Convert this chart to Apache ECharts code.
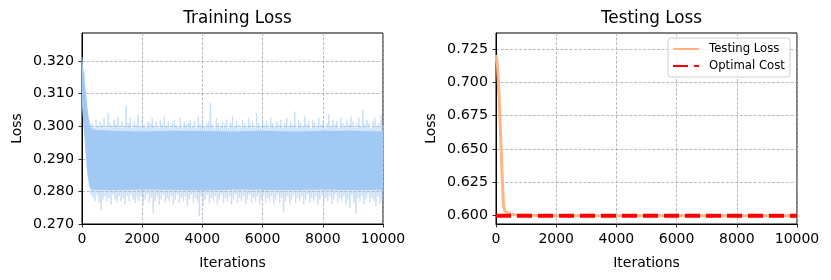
<!DOCTYPE html>
<html>
<head>
<meta charset="utf-8">
<script src="https://cdn.jsdelivr.net/npm/echarts@6/dist/echarts.min.js"></script>
<style>html,body{margin:0;padding:0;background:#fff}#c{width:831px;height:280px}</style>
</head>
<body>
<div id="c"></div>
<script>
// ---- data ----
var trainTitle = 'Training Loss';
var testTitle = 'Testing Loss';
var xLabel = 'Iterations';
var yLabel = 'Loss';
var xTicks = [0, 2000, 4000, 6000, 8000, 10000];
var trainYTicks = [0.27, 0.28, 0.29, 0.30, 0.31, 0.32];
var testYTicks = [0.600, 0.625, 0.650, 0.675, 0.700, 0.725];
var totalIterations = 10000;
// training loss, sampled evenly over 0..10000 iterations (noisy extremes)
var trainLoss = [
0.3212,0.3120,0.3165,0.3035,0.3085,0.2945,0.3020,0.2850,0.3005,0.2790,
0.3010,0.2780,0.2995,0.2770,0.3020,0.2790,0.3000,0.2765,0.3015,0.2743,
0.3005,0.2775,0.3025,0.2785,0.2995,0.2770,0.3041,0.2780,0.3010,0.2760,
0.3000,0.2790,0.3020,0.2775,0.3005,0.2765,0.3030,0.2785,0.2995,0.2770,
0.3015,0.2780,0.3000,0.2760,0.3064,0.2785,0.3010,0.2770,0.3025,0.2790,
0.2995,0.2775,0.3015,0.2765,0.3005,0.2780,0.3035,0.2770,0.3000,0.2785,
0.3020,0.2760,0.3005,0.2775,0.2995,0.2790,0.3015,0.2765,0.3010,0.2780,
0.3025,0.2733,0.3000,0.2770,0.3015,0.2785,0.2995,0.2760,0.3020,0.2775,
0.3005,0.2790,0.3030,0.2765,0.3000,0.2780,0.3015,0.2770,0.2995,0.2785,
0.3010,0.2760,0.3020,0.2775,0.3005,0.2790,0.3000,0.2765,0.3025,0.2780,
0.2995,0.2770,0.3015,0.2785,0.3005,0.2755,0.3010,0.2775,0.3020,0.2790,
0.3000,0.2765,0.3015,0.2780,0.2995,0.2770,0.3030,0.2724,0.3005,0.2785,
0.3020,0.2760,0.3000,0.2775,0.3010,0.2790,0.3015,0.2765,0.3071,0.2780,
0.3005,0.2770,0.2995,0.2785,0.3025,0.2760,0.3010,0.2775,0.3000,0.2790,
0.3015,0.2765,0.3005,0.2780,0.3020,0.2770,0.2995,0.2785,0.3010,0.2760,
0.3030,0.2775,0.3000,0.2790,0.3015,0.2765,0.3005,0.2780,0.2995,0.2770,
0.3020,0.2785,0.3010,0.2760,0.3000,0.2775,0.3025,0.2790,0.3005,0.2765,
0.3015,0.2780,0.2995,0.2770,0.3040,0.2785,0.3010,0.2760,0.3000,0.2775,
0.3020,0.2790,0.3005,0.2765,0.3015,0.2780,0.2995,0.2770,0.3025,0.2785,
0.3010,0.2760,0.3000,0.2775,0.3015,0.2790,0.3005,0.2765,0.3020,0.2780,
0.2995,0.2737,0.3010,0.2770,0.3025,0.2785,0.3000,0.2760,0.3015,0.2775,
0.3005,0.2790,0.3045,0.2765,0.2995,0.2780,0.3020,0.2770,0.3010,0.2785,
0.3000,0.2760,0.3030,0.2775,0.3005,0.2790,0.3015,0.2765,0.2995,0.2780,
0.3020,0.2770,0.3010,0.2785,0.3000,0.2760,0.3025,0.2775,0.3005,0.2790,
0.3015,0.2765,0.2995,0.2780,0.3010,0.2770,0.3035,0.2785,0.3000,0.2760,
0.3020,0.2775,0.3005,0.2790,0.3015,0.2765,0.2995,0.2780,0.3025,0.2770,
0.3010,0.2785,0.3000,0.2760,0.3020,0.2775,0.3005,0.2750,0.3030,0.2790,
0.3015,0.2765,0.2995,0.2730,0.3010,0.2780,0.3025,0.2770,0.3000,0.2785,
0.3050,0.2760,0.3005,0.2775,0.3020,0.2790,0.3010,0.2765,0.2995,0.2780,
0.3015,0.2770,0.3025,0.2755,0.3000,0.2785,0.3010,0.2760,0.3035,0.2775,
0.3005
];
// dense core of the training-loss band (lower / upper edge)
var trainBandIter = [0, 60, 120, 180, 250, 330, 1000, 2000, 3000, 4000, 5000, 6000, 7000, 8000, 9000, 10000];
var trainBandLo = [0.3060, 0.2990, 0.2920, 0.2850, 0.2812, 0.2805, 0.2804, 0.2806, 0.2805, 0.2803, 0.2806, 0.2805, 0.2804, 0.2806, 0.2804, 0.2805];
var trainBandHi = [0.3210, 0.3160, 0.3110, 0.3055, 0.3010, 0.2990, 0.2986, 0.2984, 0.2986, 0.2985, 0.2984, 0.2986, 0.2984, 0.2985, 0.2986, 0.2984];
// testing loss
var testIter = [0, 50, 100, 150, 200, 250, 300, 400, 500, 700, 1000, 2000, 10000];
var testLoss = [0.7205, 0.7120, 0.6900, 0.6620, 0.6320, 0.6070, 0.6035, 0.6020, 0.6012, 0.6006, 0.6003, 0.6001, 0.6000];
var optimalIter = [0, 10000];
var optimalCost = [0.600, 0.600];

// ---- build ----
var font = 'DejaVu Sans';
var trainData = trainLoss.map(function (v, i) { return [i * totalIterations / (trainLoss.length - 1), v]; });
var bandData = trainBandIter.map(function (x, i) { return [x, trainBandLo[i], trainBandHi[i]]; });
var testData = testIter.map(function (x, i) { return [x, testLoss[i]]; });
var optData = optimalIter.map(function (x, i) { return [x, optimalCost[i]]; });

var gridLine = { show: true, lineStyle: { color: '#a8a8a8', width: 0.8, type: [3, 1.6] } };
function xAxis(gi) {
  return {
    type: 'value', gridIndex: gi, min: xTicks[0], max: xTicks[xTicks.length - 1], interval: xTicks[1] - xTicks[0],
    name: xLabel, nameLocation: 'middle', nameGap: 32,
    nameTextStyle: { fontFamily: font, fontSize: 14, color: '#000' },
    axisLine: { show: true, lineStyle: { color: '#000', width: 1 } },
    axisTick: { show: true, length: 3.5, lineStyle: { color: '#000', width: 0.8 } },
    axisLabel: { fontFamily: font, fontSize: 14, color: '#000', margin: 8, formatter: function (v) { return String(v); } },
    splitLine: gridLine
  };
}
function yAxis(gi, min, max, ticks, digits) {
  return {
    type: 'value', gridIndex: gi, min: min, max: max,
    name: yLabel, nameLocation: 'middle', nameGap: 58,
    nameTextStyle: { fontFamily: font, fontSize: 14, color: '#000' },
    axisLine: { show: true, lineStyle: { color: '#000', width: 1 } },
    axisTick: { show: true, length: 3.5, customValues: ticks, lineStyle: { color: '#000', width: 0.8 } },
    axisLabel: { fontFamily: font, fontSize: 14.3, color: '#000', margin: 8, customValues: ticks,
      formatter: function (v) { return v.toFixed(digits); } },
    splitLine: gridLine
  };
}

function renderBand(params, api) {
  if (params.dataIndex !== 0) return null;
  var top = [], bot = [];
  for (var i = 0; i < bandData.length; i++) {
    top.push(api.coord([bandData[i][0], bandData[i][2]]));
    bot.push(api.coord([bandData[i][0], bandData[i][1]]));
  }
  return {
    type: 'polygon',
    shape: { points: top.concat(bot.reverse()) },
    style: { fill: '#a1c9f4', stroke: null }
  };
}

var chart = echarts.init(document.getElementById('c'), null, { renderer: 'canvas' });
chart.setOption({
  animation: false,
  backgroundColor: '#fff',
  title: [
    { text: trainTitle, left: 232.5, top: 5, textAlign: 'center', textStyle: { fontFamily: font, fontSize: 16.8, fontWeight: 'normal', color: '#000' } },
    { text: testTitle, left: 646.5, top: 5, textAlign: 'center', textStyle: { fontFamily: font, fontSize: 16.8, fontWeight: 'normal', color: '#000' } }
  ],
  grid: [
    { left: 82, top: 33, width: 301, height: 191, show: true, borderColor: '#000', borderWidth: 1, backgroundColor: 'transparent' },
    { left: 496, top: 33, width: 301, height: 191, show: true, borderColor: '#000', borderWidth: 1, backgroundColor: 'transparent' }
  ],
  xAxis: [xAxis(0), xAxis(1)],
  yAxis: [yAxis(0, 0.27, 0.3286, trainYTicks, 3), yAxis(1, 0.5938, 0.737, testYTicks, 3)],
  legend: {
    data: ['Testing Loss', 'Optimal Cost'],
    orient: 'vertical', left: 668, top: 38,
    itemWidth: 26, itemHeight: 12, itemGap: 5,
    padding: [5, 5, 5, 4],
    borderColor: '#d0d0d0', borderWidth: 1, borderRadius: 3,
    backgroundColor: 'rgba(255,255,255,0.8)',
    itemStyle: { opacity: 0 },
    textStyle: { fontFamily: font, fontSize: 11.7, color: '#000', padding: [0, 0, 0, 5] }
  },
  series: [
    { name: 'bandCore', type: 'custom', xAxisIndex: 0, yAxisIndex: 0, data: bandData,
      encode: { x: 0, y: [1, 2] }, renderItem: renderBand, clip: true, silent: true, z: 2 },
    { name: 'Training Loss', type: 'line', xAxisIndex: 0, yAxisIndex: 0, data: trainData,
      symbol: 'none', lineStyle: { color: '#a1c9f4', width: 1.4, opacity: 0.6 }, itemStyle: { color: '#a1c9f4' }, z: 3 },
    { name: 'Testing Loss', type: 'line', xAxisIndex: 1, yAxisIndex: 1, data: testData,
      symbol: 'none', lineStyle: { color: '#ffb482', width: 3 }, itemStyle: { color: '#ffb482' }, z: 3 },
    { name: 'Optimal Cost', type: 'line', xAxisIndex: 1, yAxisIndex: 1, data: optData,
      symbol: 'none', lineStyle: { color: '#ff0000', width: 4, type: [15, 6] }, itemStyle: { color: '#ff0000' }, z: 4 }
  ]
});
</script>
</body>
</html>
